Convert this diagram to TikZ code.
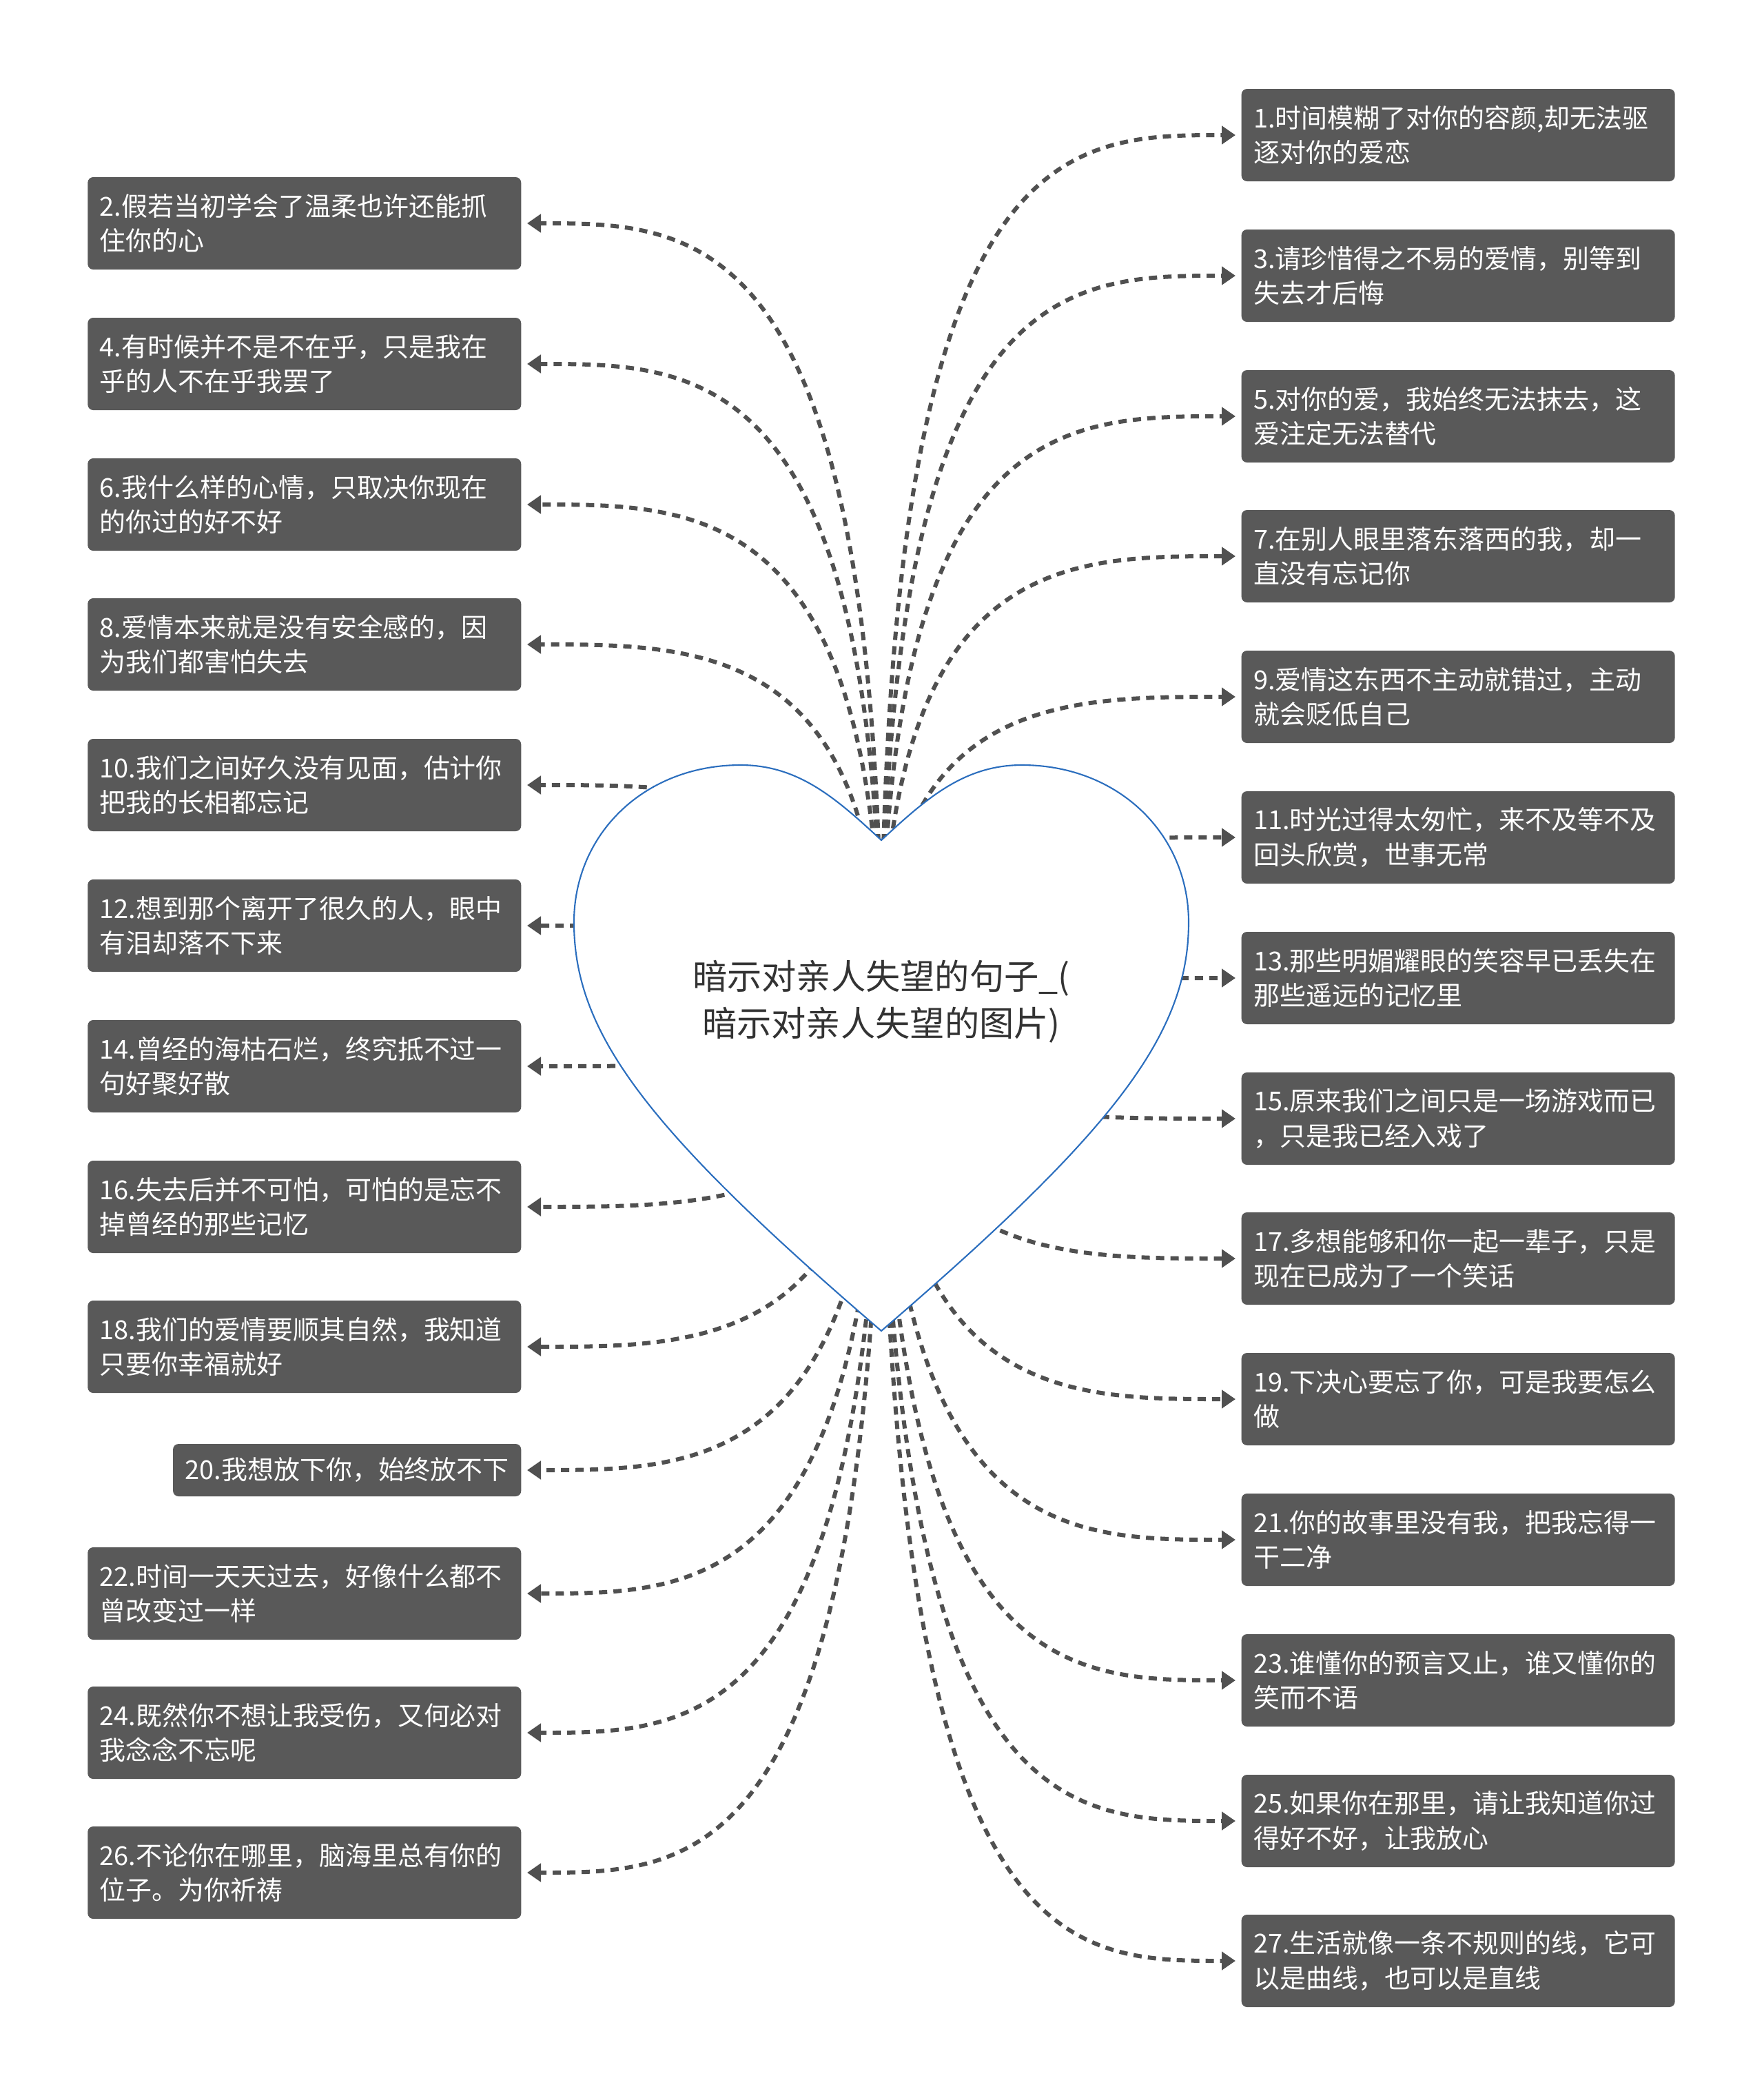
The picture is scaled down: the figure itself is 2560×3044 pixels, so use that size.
\documentclass[tikz,border=0pt]{standalone}
\usepackage{fontspec}
\newfontfamily\cjk{Noto Sans CJK SC}
\usetikzlibrary{arrows.meta,backgrounds,calc}

\definecolor{boxgray}{RGB}{89,89,89}
\definecolor{linkgray}{RGB}{80,80,80}
\definecolor{heartblue}{RGB}{43,110,190}
\definecolor{titlegray}{RGB}{51,51,51}

\tikzset{
	leaf/.style={fill=boxgray, rounded corners=0.8mm, text=white, align=left,
		inner xsep=1.75mm, inner ysep=0pt, minimum height=13.4mm,
		font=\cjk\fontsize{10.8pt}{14.4pt}\selectfont},
	rleaf/.style={leaf, text width=59.4mm, anchor=west},
	lleaf/.style={leaf, text width=59.4mm, anchor=east},
	heart/.style={draw=heartblue, line width=0.6pt, fill=white},
	title/.style={text=titlegray, align=center, font=\cjk\fontsize{14.3pt}{19.3pt}\selectfont},
	link/.style={draw=linkgray, line width=0.6mm, dash pattern=on 1.2mm off 0.9mm,
		-{Triangle[length=2mm,width=2.6mm]}, shorten >=0.8mm,
		to path={.. controls (\tikztostart |- \tikztotarget) and ($(\tikztostart |- \tikztotarget)!0.5!(\tikztotarget)$) .. (\tikztotarget)}}
}

\begin{document}
\begin{tikzpicture}[x=0.1mm, y=-0.1mm]
	\useasboundingbox (0,0) rectangle (2560,3044);

	% the heart
	\draw[heart] (1279,1219) .. controls (1215,1160) and (1160,1110) .. (1075,1110)
		.. controls (935,1110) and (833,1210) .. (833,1338)
		.. controls (833,1500) and (940,1640) .. (1279,1931)
		.. controls (1618,1640) and (1725,1500) .. (1725,1338)
		.. controls (1725,1210) and (1623,1110) .. (1483,1110)
		.. controls (1398,1110) and (1343,1160) .. (1279,1219) -- cycle;

	\node[title] (root) at (1279,1453) {暗示对亲人失望的句子\_(\\暗示对亲人失望的图片)};

	% right column
	\node[rleaf] (s1) at (1801,196) {1.时间模糊了对你的容颜,却无法驱\\逐对你的爱恋};
	\node[rleaf] (s3) at (1801,400) {3.请珍惜得之不易的爱情，别等到\\失去才后悔};
	\node[rleaf] (s5) at (1801,604) {5.对你的爱，我始终无法抹去，这\\爱注定无法替代};
	\node[rleaf] (s7) at (1801,807) {7.在别人眼里落东落西的我，却一\\直没有忘记你};
	\node[rleaf] (s9) at (1801,1011) {9.爱情这东西不主动就错过，主动\\就会贬低自己};
	\node[rleaf] (s11) at (1801,1215) {11.时光过得太匆忙，来不及等不及\\回头欣赏，世事无常};
	\node[rleaf] (s13) at (1801,1419) {13.那些明媚耀眼的笑容早已丢失在\\那些遥远的记忆里};
	\node[rleaf] (s15) at (1801,1623) {15.原来我们之间只是一场游戏而已\\，只是我已经入戏了};
	\node[rleaf] (s17) at (1801,1826) {17.多想能够和你一起一辈子，只是\\现在已成为了一个笑话};
	\node[rleaf] (s19) at (1801,2030) {19.下决心要忘了你，可是我要怎么\\做};
	\node[rleaf] (s21) at (1801,2234) {21.你的故事里没有我，把我忘得一\\干二净};
	\node[rleaf] (s23) at (1801,2438) {23.谁懂你的预言又止，谁又懂你的\\笑而不语};
	\node[rleaf] (s25) at (1801,2642) {25.如果你在那里，请让我知道你过\\得好不好，让我放心};
	\node[rleaf] (s27) at (1801,2845) {27.生活就像一条不规则的线，它可\\以是曲线，也可以是直线};

	% left column
	\node[lleaf] (s2) at (757,324) {2.假若当初学会了温柔也许还能抓\\住你的心};
	\node[lleaf] (s4) at (757,528) {4.有时候并不是不在乎，只是我在\\乎的人不在乎我罢了};
	\node[lleaf] (s6) at (757,732) {6.我什么样的心情，只取决你现在\\的你过的好不好};
	\node[lleaf] (s8) at (757,935) {8.爱情本来就是没有安全感的，因\\为我们都害怕失去};
	\node[lleaf] (s10) at (757,1139) {10.我们之间好久没有见面，估计你\\把我的长相都忘记};
	\node[lleaf] (s12) at (757,1343) {12.想到那个离开了很久的人，眼中\\有泪却落不下来};
	\node[lleaf] (s14) at (757,1547) {14.曾经的海枯石烂，终究抵不过一\\句好聚好散};
	\node[lleaf] (s16) at (757,1751) {16.失去后并不可怕，可怕的是忘不\\掉曾经的那些记忆};
	\node[lleaf] (s18) at (757,1954) {18.我们的爱情要顺其自然，我知道\\只要你幸福就好};
	\node[leaf, anchor=east, minimum height=7.6mm] (s20) at (757,2133) {20.我想放下你，始终放不下};
	\node[lleaf] (s22) at (757,2312) {22.时间一天天过去，好像什么都不\\曾改变过一样};
	\node[lleaf] (s24) at (757,2514) {24.既然你不想让我受伤，又何必对\\我念念不忘呢};
	\node[lleaf] (s26) at (757,2717) {26.不论你在哪里，脑海里总有你的\\位子。为你祈祷};

	% connectors, behind the heart
	\begin{pgfonlayer}{background}
		\fill[white] (0,0) rectangle (2560,3044);
		\foreach \i in {1,3,...,27}
			\draw[link] (root.center) to (s\i.west);
		\foreach \i in {2,4,...,26}
			\draw[link] (root.center) to (s\i.east);
	\end{pgfonlayer}

\end{tikzpicture}
\end{document}
